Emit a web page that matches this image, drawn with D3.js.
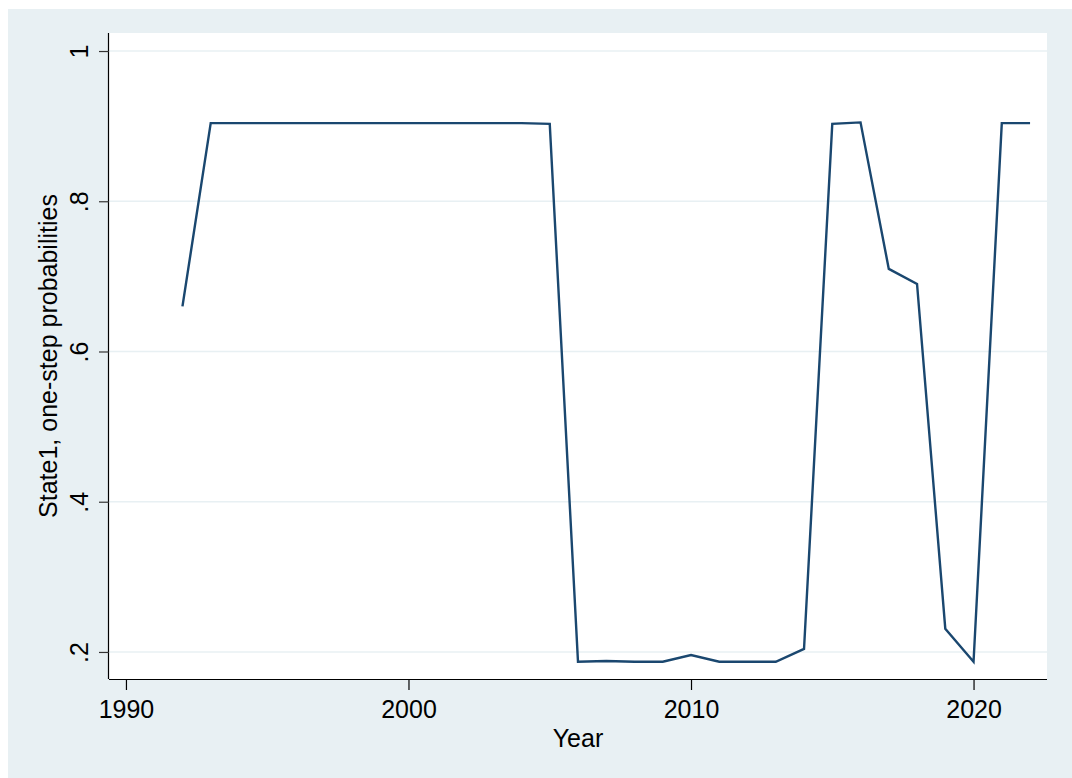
<!DOCTYPE html>
<html lang="en">
<head>
    <meta charset="UTF-8">
    <title>State1, one-step probabilities</title>
    <script src="https://cdnjs.cloudflare.com/ajax/libs/d3/7.8.5/d3.min.js"></script>
    <style>
        body {
            margin: 0;
            background: #ffffff;
            font-family: Arial, 'Liberation Sans', sans-serif;
        }
    </style>
</head>
<body>
    <div id="chart"></div>
    <script>
        // Data
        const years = [1992, 1993, 1994, 1995, 1996, 1997, 1998, 1999, 2000, 2001, 2002,
            2003, 2004, 2005, 2006, 2007, 2008, 2009, 2010, 2011, 2012, 2013, 2014,
            2015, 2016, 2017, 2018, 2019, 2020, 2021, 2022];
        const probs = [0.660, 0.904, 0.904, 0.904, 0.904, 0.904, 0.904, 0.904, 0.904, 0.904, 0.904,
            0.904, 0.904, 0.903, 0.187, 0.188, 0.187, 0.187, 0.196, 0.187, 0.187, 0.187, 0.204,
            0.903, 0.905, 0.710, 0.690, 0.231, 0.187, 0.904, 0.904];
        const xTicks = [1990, 2000, 2010, 2020];
        const yTicks = [0.2, 0.4, 0.6, 0.8, 1];
        const yTickLabels = [".2", ".4", ".6", ".8", "1"];

        // Configuration
        const width = 1072;
        const height = 778;
        const plot = { left: 109, right: 1047, top: 33, bottom: 679 };

        const svg = d3.select("#chart")
            .append("svg")
            .attr("width", width)
            .attr("height", height);

        // Graph region
        svg.append("rect")
            .attr("x", 8).attr("y", 9)
            .attr("width", width - 8).attr("height", height - 9)
            .attr("fill", "#e8f0f3");

        // Plot region
        svg.append("rect")
            .attr("x", plot.left).attr("y", plot.top)
            .attr("width", plot.right - plot.left).attr("height", plot.bottom - plot.top)
            .attr("fill", "#ffffff");

        const x = d3.scaleLinear()
            .domain([1989.4, 2022.6])
            .range([plot.left, plot.right]);

        const y = d3.scaleLinear()
            .domain([0.164, 1.024])
            .range([plot.bottom, plot.top]);

        // Grid lines
        svg.append("g")
            .selectAll("line")
            .data(yTicks)
            .join("line")
            .attr("x1", plot.left)
            .attr("x2", plot.right)
            .attr("y1", d => y(d))
            .attr("y2", d => y(d))
            .attr("stroke", "#e8f0f3")
            .attr("stroke-width", 1.5);

        // X axis
        const xAxis = svg.append("g")
            .attr("transform", `translate(0, ${plot.bottom})`)
            .call(d3.axisBottom(x).tickValues(xTicks).tickFormat(d3.format("d")).tickSize(11).tickPadding(10))
            .call(g => g.select(".domain").attr("d", `M${plot.left},0.5H${plot.right}`));

        xAxis.selectAll("line, path").attr("stroke", "#000").attr("stroke-width", 1.2);
        xAxis.selectAll("text")
            .attr("fill", "#000")
            .style("font-size", "25px")
            .style("font-family", "Arial, 'Liberation Sans', sans-serif");

        // Y axis
        const yAxis = svg.append("g")
            .attr("transform", `translate(${plot.left}, 0)`)
            .call(d3.axisLeft(y).tickValues(yTicks).tickFormat((d, i) => yTickLabels[i]).tickSize(10))
            .call(g => g.select(".domain").attr("d", `M-0.5,${plot.top}V${plot.bottom}`));

        yAxis.selectAll("line, path").attr("stroke", "#000").attr("stroke-width", 1.2);
        yAxis.selectAll("line").attr("stroke", "#333");
        yAxis.selectAll("text")
            .attr("fill", "#000")
            .attr("x", null).attr("dy", null)
            .attr("text-anchor", "middle")
            .attr("dominant-baseline", "central")
            .attr("transform", "translate(-30, 0) rotate(-90)")
            .style("font-size", "25px")
            .style("font-family", "Arial, 'Liberation Sans', sans-serif");

        // Line
        const line = d3.line()
            .x((d, i) => x(years[i]))
            .y(d => y(d));

        svg.append("path")
            .datum(probs)
            .attr("d", line)
            .attr("fill", "none")
            .attr("stroke", "#1a476f")
            .attr("stroke-width", 2.4)
            .attr("stroke-linejoin", "miter");

        // Axis titles
        svg.append("text")
            .attr("x", 578)
            .attr("y", 738)
            .attr("text-anchor", "middle")
            .attr("dominant-baseline", "central")
            .style("font-size", "25px")
            .text("Year");

        svg.append("text")
            .attr("transform", `translate(48, ${(plot.top + plot.bottom) / 2}) rotate(-90)`)
            .attr("text-anchor", "middle")
            .attr("dominant-baseline", "central")
            .style("font-size", "25px")
            .text("State1, one-step probabilities");
    </script>
</body>
</html>
